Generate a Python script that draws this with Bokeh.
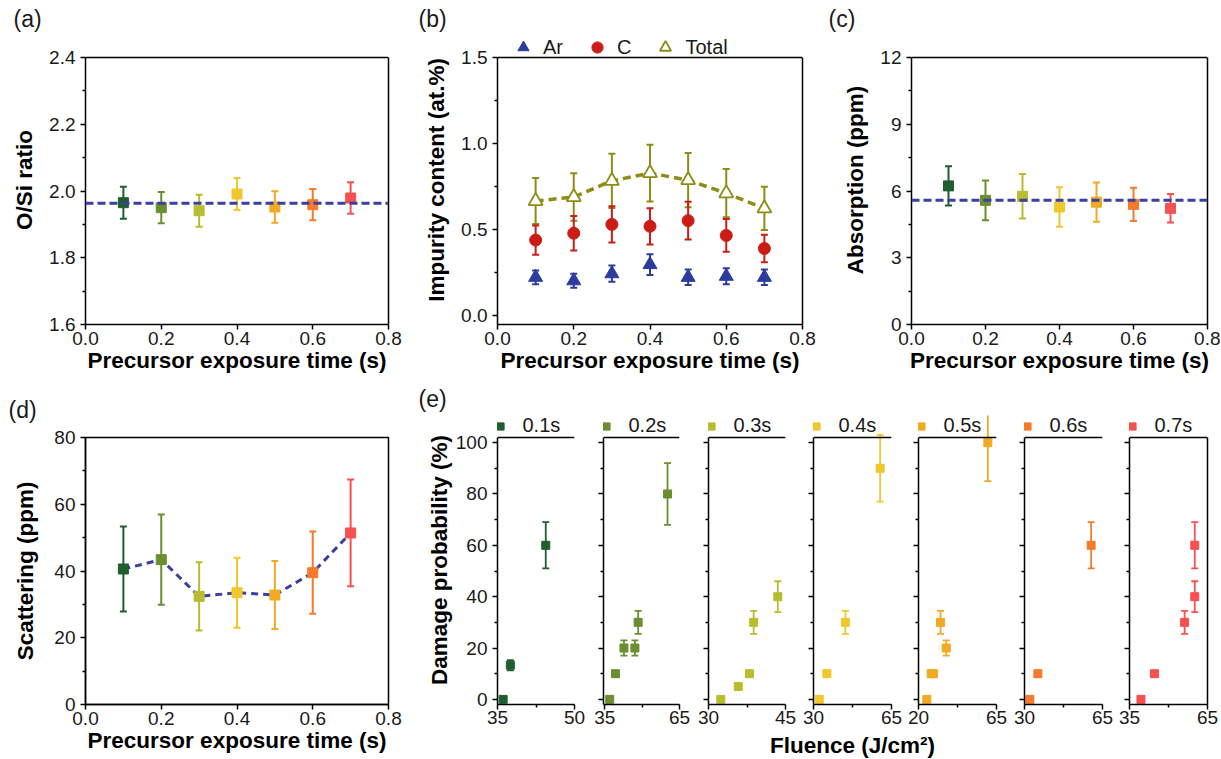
from bokeh.plotting import figure
from bokeh.models import (Range1d, FixedTicker, PrintfTickFormatter, Span, Label, Title,
                          Legend, LegendItem, LinearAxis, ColumnDataSource)
from bokeh.core.properties import field
from bokeh.layouts import row, column
from bokeh.embed import file_html
from bokeh.resources import INLINE

FONT = "Liberation Sans"
TXT = "#1a1a1a"

# ---------------- data ----------------
times = [0.1, 0.2, 0.3, 0.4, 0.5, 0.6, 0.7]
time_labels = ["0.1s", "0.2s", "0.3s", "0.4s", "0.5s", "0.6s", "0.7s"]
time_colors = ["#1f5f2f", "#6b8e2e", "#b7bd2e", "#f0c72c", "#f0aa24", "#f57b2b", "#f65150"]

# (a) O/Si ratio
os_ratio = [1.965, 1.950, 1.941, 1.991, 1.952, 1.959, 1.979]
os_err = [0.048, 0.047, 0.048, 0.048, 0.047, 0.047, 0.047]
os_mean = 1.963

# (b) impurity content
ar_content = [0.224, 0.204, 0.245, 0.298, 0.224, 0.230, 0.224]
ar_err = [0.040, 0.040, 0.047, 0.060, 0.045, 0.047, 0.045]
c_content = [0.440, 0.480, 0.531, 0.520, 0.553, 0.467, 0.391]
c_err = [0.085, 0.100, 0.105, 0.105, 0.110, 0.095, 0.080]
total_content = [0.667, 0.690, 0.784, 0.829, 0.788, 0.712, 0.624]
total_err = [0.133, 0.138, 0.157, 0.165, 0.158, 0.140, 0.125]

# (c) absorption
absorption = [6.23, 5.58, 5.76, 5.28, 5.50, 5.40, 5.22]
absorption_err = [0.88, 0.89, 1.00, 0.89, 0.88, 0.75, 0.64]
absorption_mean = 5.58

# (d) scattering
scattering = [40.6, 43.4, 32.4, 33.5, 32.8, 39.5, 51.4]
scattering_err = [12.7, 13.5, 10.2, 10.5, 10.2, 12.3, 16.0]

# (e) damage probability vs fluence
e_fluence = [
    [36.1, 37.5, 44.4],
    [37.0, 39.3, 42.7, 47.1, 48.4, 60.2],
    [32.4, 35.8, 38.0, 38.8, 43.5],
    [32.6, 36.0, 44.3, 59.9],
    [24.8, 27.3, 28.7, 32.7, 36.0, 60.0],
    [32.4, 36.0, 59.9],
    [39.4, 44.6, 56.2, 60.1, 60.1],
]
e_prob = [
    [0, 13.3, 60],
    [0, 10, 20, 20, 30, 80],
    [0, 5, 10, 30, 40],
    [0, 10, 30, 90],
    [0, 10, 10, 30, 20, 100],
    [0, 10, 60],
    [0, 10, 30, 40, 60],
]
e_err = [
    [0, 2, 9],
    [0, 1, 3, 3, 4.5, 12],
    [0, 1, 1, 4.5, 6],
    [0, 1, 4.5, 13],
    [0, 1, 1, 4.5, 3, 15],
    [0, 1, 9],
    [0, 1, 4.5, 6, 9],
]
e_xranges = [(35, 50), (34.5, 65), (30, 45), (30, 65), (20, 65), (30, 65), (35, 65)]
e_xticks = [[35, 50], [35, 65], [30, 45], [30, 65], [20, 65], [30, 65], [35, 65]]
e_yrange = (-2, 102)

time_ticks = [0.0, 0.2, 0.4, 0.6, 0.8]

BLUE_DASH = "#3b3f9f"
AR_COL = "#2c3c9e"
C_COL = "#cb1d16"
TOT_COL = "#8d8d16"

DATA_PX = 267   # height of the boxed data area
EXTRA_PX = 22   # extra frame space above the box (legend zone)


# ---------------- helpers ----------------
def style_axis(ax):
    ax.axis_line_width = 1.5
    ax.axis_line_color = "black"
    ax.major_tick_line_width = 1.5
    ax.major_tick_line_color = "black"
    ax.minor_tick_line_width = 1.5
    ax.minor_tick_line_color = "black"
    ax.major_tick_out = 5
    ax.major_tick_in = 0
    ax.minor_tick_out = 3
    ax.minor_tick_in = 0
    ax.major_label_text_font = FONT
    ax.major_label_text_font_size = "19px"
    ax.major_label_text_color = TXT
    ax.major_label_standoff = 2
    ax.axis_label_text_font = FONT
    ax.axis_label_text_font_size = "22.5px"
    ax.axis_label_text_font_style = "bold"
    ax.axis_label_text_color = "black"
    ax.axis_label_standoff = 0


def make_fig(width, height, xr, yr, ml, mr, mt, mb, extended, right_line=True):
    """extended: frame is taller than the boxed data area; the box is drawn from bounded axes."""
    lo, hi = yr
    top = hi + EXTRA_PX * (hi - lo) / DATA_PX if extended else hi
    p = figure(width=width, height=height, x_range=Range1d(*xr), y_range=Range1d(lo, top),
               toolbar_location=None, output_backend="svg",
               min_border_left=ml, min_border_right=mr, min_border_top=mt, min_border_bottom=mb)
    p.xgrid.visible = False
    p.ygrid.visible = False
    p.background_fill_color = "white"
    p.border_fill_color = "white"
    for ax in (p.below[0], p.left[0]):
        style_axis(ax)
    p.left[0].major_label_standoff = 5
    if extended:
        p.outline_line_color = None
        p.left[0].bounds = (lo, hi)
        p.add_layout(Span(location=hi, dimension="width", line_color="black", line_width=1.5))
        if right_line:
            rax = LinearAxis(bounds=(lo, hi), ticker=FixedTicker(ticks=[]), axis_line_width=1.5,
                             axis_line_color="black", major_tick_line_color=None,
                             minor_tick_line_color=None)
            p.add_layout(rax, "right")
    else:
        p.outline_line_color = "black"
        p.outline_line_width = 1.5
    return p


def errorbars(p, x, y, err, colors, cap=7, lw=2):
    xs, lo, hi, cs = [], [], [], []
    for xi, yi, ei, ci in zip(x, y, err, colors):
        if ei > 0:
            xs.append(xi); lo.append(yi - ei); hi.append(yi + ei); cs.append(ci)
    src = ColumnDataSource(dict(x=xs, lo=lo, hi=hi, col=cs))
    p.segment(x0="x", y0="lo", x1="x", y1="hi", line_color=field("col"), line_width=lw, source=src)
    p.scatter(x="x", y="lo", marker="dash", size=cap, line_color=field("col"), line_width=lw, source=src)
    p.scatter(x="x", y="hi", marker="dash", size=cap, line_color=field("col"), line_width=lw, source=src)


def panel_tag(p, text, dx, standoff, valign="bottom"):
    p.title = Title(text=text, align="left", offset=dx, standoff=standoff,
                    text_font=FONT, text_font_size="23px", text_font_style="normal",
                    text_color=TXT, vertical_align=valign)


def time_axes(p, yticks, yminor, yfmt, ylabel, ystand):
    p.below[0].ticker = FixedTicker(ticks=time_ticks, minor_ticks=[])
    p.below[0].formatter = PrintfTickFormatter(format="%.1f")
    p.below[0].axis_label = "Precursor exposure time (s)"
    p.left[0].ticker = FixedTicker(ticks=yticks, minor_ticks=yminor)
    if yfmt:
        p.left[0].formatter = PrintfTickFormatter(format=yfmt)
    p.left[0].axis_label = ylabel
    p.left[0].axis_label_standoff = ystand


def colored_squares(p, x, y, err, colors, size=10):
    errorbars(p, x, y, err, colors)
    src = ColumnDataSource(dict(x=x, y=y, col=colors))
    return p.scatter(x="x", y="y", marker="square", size=size, fill_color=field("col"),
                     line_color=field("col"), source=src)


def make_legend(items, x, y, glyph, standoff, spacing=0):
    return Legend(items=items, orientation="horizontal", location=(x, y),
                  glyph_width=glyph, glyph_height=glyph, label_standoff=standoff,
                  label_width=5, spacing=spacing, padding=0, margin=0,
                  border_line_color=None, background_fill_alpha=0,
                  label_text_font=FONT, label_text_font_size="20px", label_text_color=TXT)


# ---------------- (a) ----------------
MT1 = 35
fa = make_fig(412, 380, (0, 0.8), (1.6, 2.4), 85, 24, MT1, 56, True)
time_axes(fa, [1.6, 1.8, 2.0, 2.2, 2.4], [1.7, 1.9, 2.1, 2.3], "%.1f", "O/Si ratio", 9)
colored_squares(fa, times, os_ratio, os_err, time_colors)
fa.add_layout(Span(location=os_mean, dimension="width", line_color=BLUE_DASH,
                   line_width=3, line_dash="8 4"))
panel_tag(fa, "(a)", -72, 7)

# ---------------- (b) ----------------
fb = make_fig(414, 380, (0, 0.8), (-0.05, 1.5), 85, 24, MT1, 56, True)
time_axes(fb, [0.0, 0.5, 1.0, 1.5], [0.25, 0.75, 1.25], "%.1f", "Impurity content (at.%)", 9)
fb.line(times, total_content, line_color=TOT_COL, line_width=3.5, line_dash="8 5")
errorbars(fb, times, total_content, total_err, [TOT_COL] * 7)
errorbars(fb, times, c_content, c_err, [C_COL] * 7)
errorbars(fb, times, ar_content, ar_err, [AR_COL] * 7)
r_tot = fb.scatter(times, total_content, marker="triangle", size=14, fill_color="white",
                   line_color=TOT_COL, line_width=1.8)
r_c = fb.scatter(times, c_content, marker="circle", size=12, fill_color=C_COL, line_color=C_COL)
r_ar = fb.scatter(times, ar_content, marker="triangle", size=14, fill_color=AR_COL, line_color=AR_COL)
leg_b = make_legend([LegendItem(label="Ar", renderers=[r_ar]),
                     LegendItem(label="C", renderers=[r_c]),
                     LegendItem(label="Total", renderers=[r_tot])],
                    12, DATA_PX - 4, 28, 6, 20)
fb.add_layout(leg_b, "center")
panel_tag(fb, "(b)", -79, 7)

# ---------------- (c) ----------------
fc = make_fig(394, 380, (0, 0.8), (0, 12), 85, 13, MT1, 56, True)
time_axes(fc, [0, 3, 6, 9, 12], [1.5, 4.5, 7.5, 10.5], None, "Absorption (ppm)", 9)
colored_squares(fc, times, absorption, absorption_err, time_colors)
fc.add_layout(Span(location=absorption_mean, dimension="width", line_color=BLUE_DASH,
                   line_width=3, line_dash="8 4"))
panel_tag(fc, "(c)", -83, 7)

# ---------------- (d) ----------------
fd = make_fig(412, 378, (0, 0.8), (0, 80), 85, 24, 57, 54, False)
time_axes(fd, [0, 20, 40, 60, 80], [10, 30, 50, 70], None, "Scattering (ppm)", 13)
fd.line(times, scattering, line_color=BLUE_DASH, line_width=3, line_dash="7 5")
colored_squares(fd, times, scattering, scattering_err, time_colors)
panel_tag(fd, "(d)", -77, 26, "top")

# ---------------- (e) ----------------
e_widths = [179, 105, 105, 105, 106, 105, 103]
e_ml = [85, 12, 12, 12, 12, 12, 12]
e_mr = [17, 17, 16, 15, 16, 15, 13]
efigs = []
for i in range(7):
    last = i == 6
    p = make_fig(e_widths[i], 351, e_xranges[i], e_yrange, e_ml[i], e_mr[i], 34, 27, True,
                 right_line=last)
    lo, hi = e_xticks[i]
    p.below[0].ticker = FixedTicker(ticks=[lo, hi], minor_ticks=[(lo + hi) / 2])
    p.below[0].major_label_standoff = 1
    p.left[0].ticker = FixedTicker(ticks=[0, 20, 40, 60, 80, 100], minor_ticks=[10, 30, 50, 70, 90])
    if i == 0:
        p.left[0].axis_label = "Damage probability (%)"
        p.left[0].axis_label_standoff = 1
    else:
        p.left[0].major_label_text_font_size = "1px"
        p.left[0].major_label_text_color = None
        p.left[0].major_label_standoff = 0
    col = [time_colors[i]] * len(e_fluence[i])
    errorbars(p, e_fluence[i], e_prob[i], e_err[i], col, cap=7, lw=1.8)
    r = p.scatter(e_fluence[i], e_prob[i], marker="square", size=8,
                  fill_color=time_colors[i], line_color=time_colors[i])
    p.add_layout(make_legend([LegendItem(label=time_labels[i], renderers=[r])],
                             -6.5, DATA_PX, 18, 14), "center")
    if i == 0:
        panel_tag(p, "(e)", -79, 7)
    efigs.append(p)

ffig = figure(width=808, height=27, x_range=Range1d(0, 1), y_range=Range1d(0, 1),
              toolbar_location=None, output_backend="svg", x_axis_type=None, y_axis_type=None,
              min_border=0, title_location=None)
ffig.xgrid.visible = False
ffig.ygrid.visible = False
ffig.outline_line_color = None
ffig.add_layout(Label(x=440, y=13, x_units="screen", y_units="screen", text="Fluence (J/cm\u00b2)",
                      text_font=FONT, text_font_size="22.5px", text_font_style="bold",
                      text_color="black", text_align="center", text_baseline="middle"))

layout = column(row(fa, fb, fc), row(fd, column(row(*efigs), ffig)))

open("out.html", "w").write(file_html(layout, INLINE))
